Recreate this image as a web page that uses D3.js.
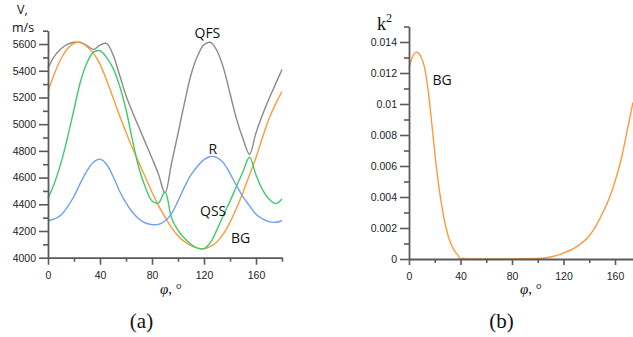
<!DOCTYPE html>
<html>
<head>
<meta charset="utf-8">
<script src="https://cdn.jsdelivr.net/npm/d3@7"></script>
<style>
  body { margin: 0; background: #fff; }
  svg { display: block; }
</style>
</head>
<body>
<div id="chart"></div>
<script>
// angle grid (deg) for panel (a)
const phi = [0,5,10,15,20,25,30,35,40,45,50,55,60,65,70,75,80,85,90,95,100,105,110,115,120,125,130,135,140,145,150,155,160,165,170,175,180]

// velocities, m/s
const qfs = [5420,5510,5565,5598,5613,5612,5588,5560,5592,5605,5520,5370,5215,5090,4975,4860,4745,4625,4485,4705,4930,5160,5370,5510,5595,5612,5550,5420,5230,5040,4890,4775,4935,5070,5190,5300,5410]
const bg  = [5245,5380,5490,5565,5605,5612,5580,5530,5450,5330,5200,5065,4940,4820,4710,4600,4490,4390,4305,4225,4165,4120,4090,4072,4067,4085,4120,4180,4265,4370,4490,4620,4750,4900,5040,5150,5245]
const qss = [4445,4560,4710,4900,5110,5320,5460,5540,5550,5500,5420,5290,5110,4880,4670,4525,4425,4410,4495,4300,4205,4145,4100,4072,4068,4115,4210,4320,4422,4535,4645,4752,4620,4510,4440,4405,4440]
const ray = [4277,4290,4320,4380,4460,4560,4650,4715,4738,4700,4610,4500,4410,4340,4290,4260,4248,4250,4275,4330,4425,4530,4620,4685,4735,4758,4750,4710,4630,4540,4455,4390,4325,4290,4270,4265,4277]

// panel (b): BG coupling coefficient
const kPhi = [0,3,6,9,12,15,18,21,24,27,30,33,36,38,39.5,42,45,60,80,100,110,120,130,140,145,150,155,160,165,170,174]
const k2   = [0.0123,0.0131,0.01335,0.0131,0.0124,0.0108,0.0085,0.0061,0.0042,0.0027,0.0016,0.0009,0.00045,0.00025,0,0.00005,0,0,0,0.00003,0.00013,0.00038,0.00078,0.0015,0.0021,0.0029,0.0038,0.005,0.0065,0.0085,0.0101]

const xTicks = [0,40,80,120,160]
const xMinor = [20,60,100,140,180]
const vTicks = [4000,4200,4400,4600,4800,5000,5200,5400,5600]
const vMinor = [4100,4300,4500,4700,4900,5100,5300,5500,5700]
const kTicks = [0,0.002,0.004,0.006,0.008,0.01,0.012,0.014]
const kMinor = [0.001,0.003,0.005,0.007,0.009,0.011,0.013,0.015]

const series = [
  {name: "QFS", vals: qfs, color: "#8a8a8a"},
  {name: "BG",  vals: bg,  color: "#ff9a3c"},
  {name: "QSS", vals: qss, color: "#3ecb6b"},
  {name: "R",   vals: ray, color: "#6f9ff6"}
]

const width = 633, height = 337

const svg = d3.select("#chart")
  .append("svg")
  .attr("width", width)
  .attr("height", height)

const axisColor = "#5a5a5a"

function styleAxis(g) {
  g.select(".domain").attr("stroke", axisColor).attr("stroke-width", 1.8)
  g.selectAll(".tick line").attr("stroke", axisColor).attr("stroke-width", 1.6)
  g.selectAll(".tick text")
    .attr("fill", "#222")
    .style("font-family", "'Liberation Sans', Arial, sans-serif")
    .style("font-size", "10.5px")
}

// ---------- panel (a) ----------
const xA = d3.scaleLinear().domain([0,180]).range([48,282])
const yA = d3.scaleLinear().domain([4000,5700]).range([257.7,30.7])

const lineA = vals => d3.line()
  .x((d,i) => xA(phi[i]))
  .y(d => yA(d))
  .curve(d3.curveCatmullRom.alpha(0.5))(vals)

svg.selectAll(".curveA")
  .data(series)
  .enter()
  .append("path")
    .attr("class", "curveA")
    .attr("d", d => lineA(d.vals))
    .attr("fill", "none")
    .attr("stroke", d => d.color)
    .attr("stroke-width", 1.4)

svg.append("g")
  .attr("transform", `translate(0,${yA(4000)})`)
  .call(d3.axisBottom(xA).tickValues(xMinor).tickSize(4).tickSizeOuter(0).tickFormat(""))
  .call(g => { styleAxis(g); g.select(".domain").remove() })
svg.append("g")
  .attr("transform", `translate(0,${yA(4000)})`)
  .call(d3.axisBottom(xA).tickValues(xTicks).tickSize(7).tickSizeOuter(0).tickPadding(7))
  .call(styleAxis)

svg.append("g")
  .attr("transform", `translate(${xA(0)},0)`)
  .call(d3.axisLeft(yA).tickValues(vMinor).tickSize(5).tickSizeOuter(0).tickFormat(""))
  .call(g => { styleAxis(g); g.select(".domain").remove() })
svg.append("g")
  .attr("transform", `translate(${xA(0)},0)`)
  .call(d3.axisLeft(yA).tickValues(vTicks).tickSize(9).tickSizeOuter(0).tickPadding(3).tickFormat(d3.format("d")))
  .call(styleAxis)

const sans = "'Open Sans', 'Noto Sans', sans-serif"
const serif = "'Liberation Serif', 'DejaVu Serif', serif"

svg.append("text").attr("x", 17).attr("y", 13.5).text("V,")
  .style("font-family", sans).style("font-size", "12.5px").attr("fill", "#111")
svg.append("text").attr("x", 12).attr("y", 31.5).text("m/s")
  .style("font-family", sans).style("font-size", "12.5px").attr("fill", "#111")

const curveLabels = [
  {t: "QFS", x: 194.5, y: 38},
  {t: "R",   x: 208.5, y: 154},
  {t: "QSS", x: 200,   y: 216},
  {t: "BG",  x: 231,   y: 243},
  {t: "BG",  x: 432.5, y: 85}
]
svg.selectAll(".clabel")
  .data(curveLabels)
  .enter()
  .append("text")
    .attr("class", "clabel")
    .attr("x", d => d.x)
    .attr("y", d => d.y)
    .text(d => d.t)
    .style("font-family", sans)
    .style("font-size", "14px")
    .attr("fill", "#111")

// ---------- panel (b) ----------
const xB = d3.scaleLinear().domain([0,180]).range([409,640.75])
const yB = d3.scaleLinear().domain([0,0.015]).range([259,26.5])

svg.append("path")
  .datum(k2)
  .attr("d", d3.line().x((d,i) => xB(kPhi[i])).y(d => yB(d)).curve(d3.curveMonotoneX))
  .attr("fill", "none")
  .attr("stroke", "#ff9a3c")
  .attr("stroke-width", 1.4)

svg.append("g")
  .attr("transform", `translate(0,${yB(0)})`)
  .call(d3.axisBottom(xB).tickValues(xMinor).tickSize(4).tickSizeOuter(0).tickFormat(""))
  .call(g => { styleAxis(g); g.select(".domain").remove() })
svg.append("g")
  .attr("transform", `translate(0,${yB(0)})`)
  .call(d3.axisBottom(xB).tickValues(xTicks).tickSize(6).tickSizeOuter(0).tickPadding(8))
  .call(styleAxis)

svg.append("g")
  .attr("transform", `translate(${xB(0)},0)`)
  .call(d3.axisLeft(yB).tickValues(kMinor).tickSize(5).tickSizeOuter(0).tickFormat(""))
  .call(g => { styleAxis(g); g.select(".domain").remove() })
svg.append("g")
  .attr("transform", `translate(${xB(0)},0)`)
  .call(d3.axisLeft(yB).tickValues(kTicks).tickSize(9).tickSizeOuter(0).tickPadding(3).tickFormat(d => String(+d.toFixed(3))))
  .call(styleAxis)

const kLab = svg.append("text").attr("x", 377).attr("y", 30)
  .style("font-family", serif).style("font-size", "18px").attr("fill", "#111")
kLab.append("tspan").text("k")
kLab.append("tspan").attr("dy", -8).style("font-size", "12px").text("2")

// x titles
const phiLabels = [{x: 160}, {x: 520}]
phiLabels.forEach(p => {
  const t = svg.append("text").attr("x", p.x).attr("y", 293.5)
    .style("font-family", serif).style("font-size", "15px").attr("fill", "#111")
  t.append("tspan").style("font-style", "italic").text("φ")
  t.append("tspan").text(", °")
})

// sub-captions
svg.selectAll(".cap")
  .data([{t: "(a)", x: 141.5}, {t: "(b)", x: 501.5}])
  .enter()
  .append("text")
    .attr("class", "cap")
    .attr("x", d => d.x)
    .attr("y", 328)
    .attr("text-anchor", "middle")
    .text(d => d.t)
    .style("font-family", serif)
    .style("font-size", "21px")
    .attr("fill", "#111")
</script>
</body>
</html>
